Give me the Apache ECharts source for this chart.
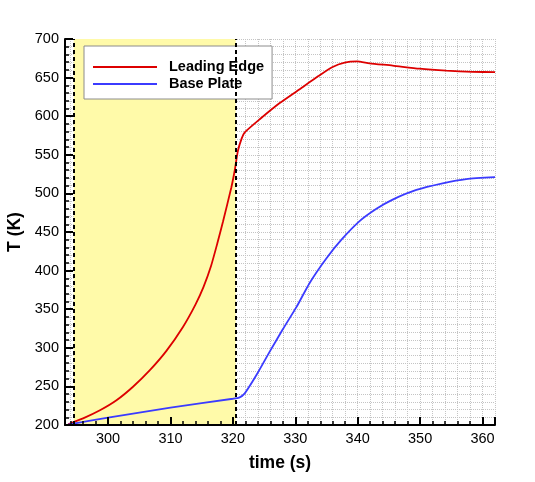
<!DOCTYPE html>
<html>
<head>
<meta charset="utf-8">
<script src="https://cdn.jsdelivr.net/npm/echarts@6/dist/echarts.min.js"></script>
<style>
html,body{margin:0;padding:0;background:#fff;}
#chart{width:535px;height:482px;}
</style>
</head>
<body>
<div id="chart"></div>
<script>
// ---- data ----
const seriesNames = ['Leading Edge', 'Base Plate'];

const leadingTime = [293.6, 296.0, 298.7, 301.35, 304.0, 306.7, 309.35, 312.0, 314.0, 315.3, 316.5, 317.5, 318.4, 319.76, 320.3, 320.8, 321.4, 321.9, 324.3, 327.5, 330.7, 333.7, 335.9, 337.9, 339.9, 341.9, 345.6, 349.9, 354.2, 358.4, 362.0];
const leadingTemp = [201, 208.5, 219, 232, 249.5, 271, 296, 327, 356, 379, 406, 435, 463, 508, 530, 555, 571, 579, 596, 617, 635, 652, 663.5, 669.5, 671, 668.5, 665.5, 661.5, 659, 657.5, 657];

const baseTime = [293.6, 300.0, 310.0, 320.0, 321.0, 321.9, 323.8, 325.9, 328.0, 330.2, 332.3, 335.0, 337.4, 340.3, 343.0, 345.6, 349.4, 353.6, 357.4, 362.0];
const baseTemp = [200.5, 209.5, 222.4, 234, 235.5, 241, 265, 295, 324, 353, 384, 416, 440, 464, 480, 492, 504.5, 513, 518.5, 521];

const xRange = [293.1, 362];
const yRange = [200, 700];
const yStep = 50;
const heatingWindow = [294.5, 320.45];

// ---- chart ----
const FONT = '"Liberation Sans", Arial, Helvetica, sans-serif';
const pairs = (xs, ys) => xs.map((x, i) => [x, ys[i]]);
const gridLine = { show: true, lineStyle: { color: '#c4c4c4', width: 1, type: [1, 1] } };

const chart = echarts.init(document.getElementById('chart'), null, { renderer: 'canvas' });

chart.setOption({
  animation: false,
  backgroundColor: '#ffffff',
  grid: { left: 65, top: 39, width: 430, height: 386, containLabel: false, outerBoundsMode: 'none' },
  legend: {
    data: seriesNames,
    orient: 'vertical',
    left: 84, top: 46,
    backgroundColor: '#ffffff',
    borderColor: '#8c8c8c',
    borderWidth: 1,
    padding: [13, 8, 7, 9],
    icon: 'rect',
    itemWidth: 64, itemHeight: 2, itemGap: 1,
    selectedMode: false,
    textStyle: { fontFamily: FONT, fontWeight: 'bold', fontSize: 14.5, color: '#000', lineHeight: 16, padding: [0, 0, 0, 7] }
  },
  xAxis: [
    { // grid lines only
      type: 'value', position: 'bottom', min: xRange[0], max: xRange[1], splitNumber: 7, z: 0,
      axisLine: { show: false }, axisTick: { show: false }, axisLabel: { show: false },
      splitLine: gridLine,
      minorTick: { show: false, splitNumber: 5 },
      minorSplitLine: gridLine
    },
    { // visible axis
      type: 'value', position: 'bottom', min: xRange[0], max: xRange[1], splitNumber: 7, z: 10,
      name: 'time (s)', nameLocation: 'middle', nameGap: 29,
      nameTextStyle: { fontFamily: FONT, fontWeight: 'bold', fontSize: 17.5, color: '#000' },
      axisLine: { show: true, onZero: false, lineStyle: { color: '#000', width: 2 } },
      axisTick: { show: true, inside: true, length: 8, lineStyle: { color: '#000', width: 2 } },
      minorTick: { show: true, splitNumber: 5, length: 4, lineStyle: { color: '#000', width: 1.5 } },
      axisLabel: {
        show: true, margin: 6, color: '#000', fontFamily: FONT, fontSize: 14.5,
        showMinLabel: false, showMaxLabel: false,
        formatter: v => (Math.abs(v % 10) < 1e-6 ? String(v) : '')
      },
      splitLine: { show: false }
    }
  ],
  yAxis: [
    {
      type: 'value', position: 'left', min: yRange[0], max: yRange[1], interval: yStep, z: 0,
      axisLine: { show: false }, axisTick: { show: false }, axisLabel: { show: false },
      splitLine: gridLine,
      minorTick: { show: false, splitNumber: 5 },
      minorSplitLine: gridLine
    },
    {
      type: 'value', position: 'left', min: yRange[0], max: yRange[1], interval: yStep, z: 10,
      name: 'T (K)', nameLocation: 'middle', nameGap: 36, nameRotate: 90,
      nameTextStyle: { fontFamily: FONT, fontWeight: 'bold', fontSize: 17.5, color: '#000' },
      axisLine: { show: true, onZero: false, lineStyle: { color: '#000', width: 2 } },
      axisTick: { show: true, inside: true, length: 8, lineStyle: { color: '#000', width: 2 } },
      minorTick: { show: true, splitNumber: 5, length: 4, lineStyle: { color: '#000', width: 1.5 } },
      axisLabel: { show: true, margin: 6, color: '#000', fontFamily: FONT, fontSize: 14.5 },
      splitLine: { show: false }
    }
  ],
  series: [
    {
      name: 'shade', type: 'line', data: [], xAxisIndex: 1, yAxisIndex: 1, z: 1, silent: true,
      markArea: {
        silent: true,
        itemStyle: { color: '#fffaa9', opacity: 1 },
        data: [[{ xAxis: heatingWindow[0] }, { xAxis: heatingWindow[1] }]]
      }
    },
    {
      name: 'divider', type: 'line', data: [], xAxisIndex: 1, yAxisIndex: 1, z: 2, silent: true,
      markLine: {
        silent: true, symbol: 'none', label: { show: false },
        lineStyle: { color: '#000', width: 2, type: [4, 3] },
        data: heatingWindow.map(v => ({ xAxis: v }))
      }
    },
    {
      name: seriesNames[0], type: 'line', xAxisIndex: 1, yAxisIndex: 1, z: 3,
      data: pairs(leadingTime, leadingTemp),
      symbol: 'none', smooth: 0.2,
      lineStyle: { color: '#dd0000', width: 1.8 }, itemStyle: { color: '#dd0000' }
    },
    {
      name: seriesNames[1], type: 'line', xAxisIndex: 1, yAxisIndex: 1, z: 3,
      data: pairs(baseTime, baseTemp),
      symbol: 'none', smooth: 0.2,
      lineStyle: { color: '#3b3bff', width: 1.8 }, itemStyle: { color: '#3b3bff' }
    }
  ]
});
</script>
</body>
</html>
